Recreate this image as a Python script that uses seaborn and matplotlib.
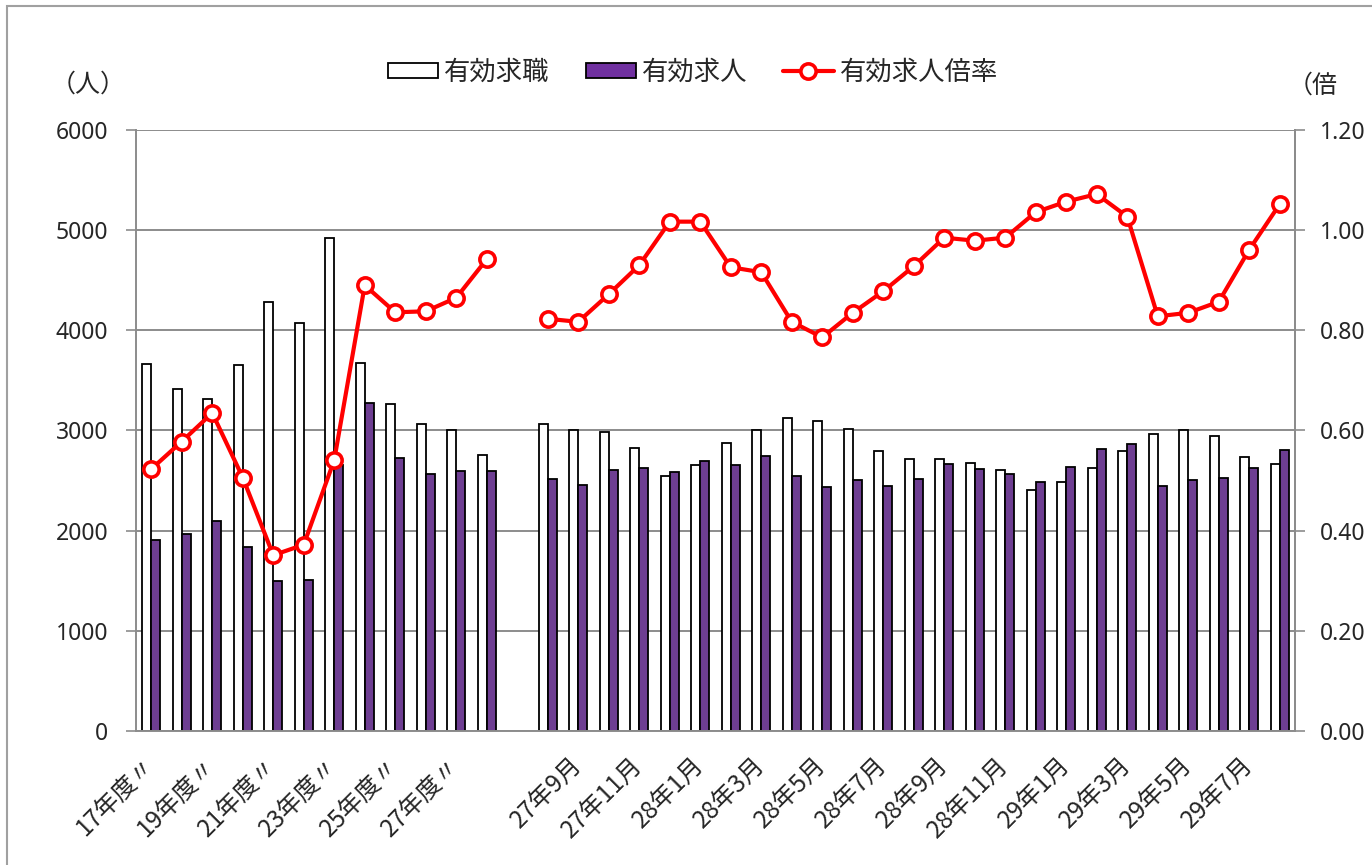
import numpy as np
import pandas as pd
import matplotlib
matplotlib.use("Agg")
import matplotlib.pyplot as plt
import seaborn as sns
from matplotlib.patches import Patch, Rectangle
from matplotlib.lines import Line2D
from matplotlib.ticker import FixedLocator, FormatStrFormatter

# ---------------- data ----------------
annual_cats = ["17年度", "18年度", "19年度", "20年度", "21年度", "22年度",
               "23年度", "24年度", "25年度", "26年度", "27年度", "28年度"]
annual_seekers = [3660, 3410, 3310, 3650, 4280, 4070, 4920, 3675, 3263, 3068, 3003, 2760]
annual_openings = [1910, 1970, 2100, 1840, 1500, 1507, 2653, 3270, 2727, 2567, 2600, 2593]
annual_ratio = [0.523, 0.578, 0.635, 0.506, 0.351, 0.372, 0.541, 0.890, 0.836, 0.838, 0.865, 0.942]

month_cats = ["27年8月", "27年9月", "27年10月", "27年11月", "27年12月",
              "28年1月", "28年2月", "28年3月", "28年4月", "28年5月", "28年6月",
              "28年7月", "28年8月", "28年9月", "28年10月", "28年11月", "28年12月",
              "29年1月", "29年2月", "29年3月", "29年4月", "29年5月", "29年6月",
              "29年7月", "29年8月"]
month_seekers = [3060, 3004, 2984, 2821, 2545, 2655, 2877, 3001, 3121, 3091, 3011, 2794,
                 2718, 2711, 2672, 2605, 2405, 2488, 2625, 2797, 2961, 3004, 2947, 2732, 2665]
month_openings = [2515, 2452, 2605, 2622, 2585, 2698, 2658, 2742, 2545, 2432, 2508, 2448,
                  2520, 2665, 2612, 2565, 2488, 2632, 2814, 2864, 2445, 2505, 2528, 2622, 2801]
month_ratio = [0.823, 0.817, 0.872, 0.930, 1.017, 1.017, 0.926, 0.916, 0.817, 0.786, 0.835, 0.878,
               0.928, 0.985, 0.979, 0.985, 1.036, 1.057, 1.072, 1.027, 0.828, 0.835, 0.857, 0.961, 1.052]

gap_cat = " "
tick_labels = ["17年度〃", "19年度〃", "21年度〃", "23年度〃", "25年度〃", "27年度〃", "",
               "27年9月", "27年11月", "28年1月", "28年3月", "28年5月", "28年7月",
               "28年9月", "28年11月", "29年1月", "29年3月", "29年5月", "29年7月"]

s_seek = "有効求職"
s_open = "有効求人"
s_ratio = "有効求人倍率"
left_unit = "（人）"
right_unit = "（倍"

# ---------------- build tables ----------------
order = annual_cats + [gap_cat] + month_cats
rows = []
for c, a, b in zip(annual_cats + month_cats, annual_seekers + month_seekers,
                   annual_openings + month_openings):
    rows.append((c, s_seek, a))
    rows.append((c, s_open, b))
df = pd.DataFrame(rows, columns=["cat", "series", "value"])

pos_annual = list(range(len(annual_cats)))
pos_month = list(range(len(annual_cats) + 1, len(order)))
df_line = pd.DataFrame({
    "pos": pos_annual + pos_month,
    "ratio": annual_ratio + month_ratio,
    "seg": [0] * len(annual_cats) + [1] * len(month_cats),
})

# ---------------- style ----------------
sns.set_theme(style="white")
plt.rcParams["font.family"] = ["Noto Sans", "Noto Sans CJK JP", "DejaVu Sans"]
cjk = ["Noto Sans CJK JP", "DejaVu Sans"]

W, H = 1372, 865
fig = plt.figure(figsize=(W / 100, H / 100), dpi=100)
ax = fig.add_axes([136 / W, 1 - 731 / H, (1295 - 136) / W, (731 - 130) / H])

purple = "#7030A0"
gray = "#8c8c8c"

sns.barplot(data=df, x="cat", y="value", hue="series", order=order,
            hue_order=[s_seek, s_open],
            palette={s_seek: "white", s_open: purple},
            edgecolor="black", linewidth=1.3, width=0.6, gap=0,
            legend=False, ax=ax, errorbar=None)

ax.set_xlim(-0.5, len(order) - 0.5)
ax.set_ylim(0, 6000)
ax.set_yticks(np.arange(0, 6001, 1000))
ax.set_xlabel("")
ax.set_ylabel("")
ax.yaxis.grid(True, color=gray, lw=1.4)
ax.set_axisbelow(True)

# x ticks: labels every other category
ax.set_xticks(list(range(0, len(order), 2)))
ax.set_xticklabels(tick_labels, rotation=45, ha="right", va="center",
                   rotation_mode="anchor", fontsize=17.5, family=cjk)
ax.tick_params(axis="x", which="major", length=0, pad=22)
ax.xaxis.set_minor_locator(FixedLocator(np.arange(-0.5, len(order), 1)))
ax.tick_params(axis="x", which="minor", length=7, width=1.2, color=gray, direction="out")
ax.tick_params(axis="y", length=7, width=1.2, color=gray, direction="out",
               labelsize=16.5, pad=13, left=True)

for side in ["left", "bottom", "right"]:
    ax.spines[side].set_color(gray)
    ax.spines[side].set_linewidth(1.4)
ax.spines["top"].set_visible(False)

# line on secondary axis
ax2 = ax.twinx()
sns.lineplot(data=df_line, x="pos", y="ratio", units="seg", estimator=None,
             color="#FF0000", lw=3, marker="o", markersize=11,
             markerfacecolor="white", markeredgecolor="#FF0000", markeredgewidth=2.6,
             ax=ax2, legend=False)
ax2.set_ylim(0, 1.2)
ax2.set_yticks(np.arange(0, 1.21, 0.2))
ax2.yaxis.set_major_formatter(FormatStrFormatter("%.2f"))
ax2.set_xlim(-0.5, len(order) - 0.5)
ax2.set_xlabel("")
ax2.set_ylabel("")
ax2.tick_params(axis="y", length=7, width=1.2, color=gray, direction="out",
                labelsize=16.5, pad=11, right=True)
for side in ["top", "left", "bottom"]:
    ax2.spines[side].set_visible(False)
ax2.spines["right"].set_color(gray)
ax2.spines["right"].set_linewidth(1.4)
ax2.grid(False)

# units
fig.text(88 / W, 1 - 85 / H, left_unit, ha="center", va="center", fontsize=18, family=cjk)
fig.text(1288 / W, 1 - 86 / H, right_unit, ha="left", va="center", fontsize=18, family=cjk)

# legend
handles = [
    Patch(facecolor="white", edgecolor="black", linewidth=1.3),
    Patch(facecolor=purple, edgecolor="black", linewidth=1.3),
    Line2D([], [], color="#FF0000", lw=3, marker="o", markersize=11,
           markerfacecolor="white", markeredgecolor="#FF0000", markeredgewidth=2.6),
]
fig.legend(handles, [s_seek, s_open, s_ratio], loc="center",
           bbox_to_anchor=(693 / W, 1 - 72 / H), ncol=3, frameon=False,
           prop={"family": cjk, "size": 19}, handlelength=1.9, handleheight=0.5,
           handletextpad=0.25, columnspacing=1.35)

# outer frame
fig.patches.append(Rectangle((7 / W, -0.05), 1.1, 1 - 6 / H + 0.05,
                             transform=fig.transFigure, fill=False,
                             edgecolor="#a0a0a0", lw=1.5))

fig.savefig("out.png", dpi=100)
